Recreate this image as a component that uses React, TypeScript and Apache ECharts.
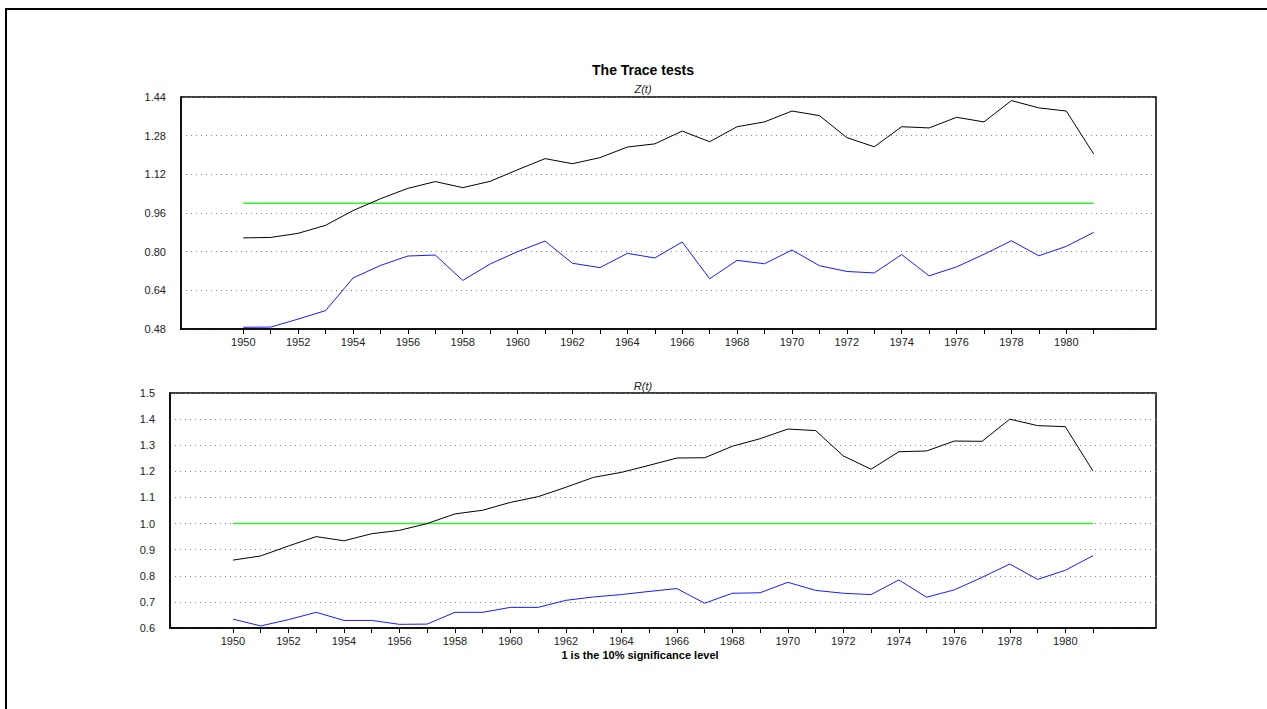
import React, { useEffect, useRef } from "react";
import * as echarts from "echarts";

const years: number[] = [
  1950, 1951, 1952, 1953, 1954, 1955, 1956, 1957, 1958, 1959, 1960, 1961, 1962, 1963, 1964, 1965,
  1966, 1967, 1968, 1969, 1970, 1971, 1972, 1973, 1974, 1975, 1976, 1977, 1978, 1979, 1980, 1981,
];
const labelYears: number[] = [1950, 1952, 1954, 1956, 1958, 1960, 1962, 1964, 1966, 1968, 1970, 1972, 1974, 1976, 1978, 1980];

const zBlack: number[] = [
  0.857, 0.859, 0.876, 0.909, 0.970, 1.019, 1.062, 1.090, 1.065, 1.091, 1.139, 1.185, 1.164, 1.189, 1.233, 1.246,
  1.299, 1.255, 1.317, 1.337, 1.382, 1.363, 1.272, 1.234, 1.317, 1.312, 1.356, 1.337, 1.425, 1.395, 1.382, 1.204,
];
const zBlue: number[] = [
  0.487, 0.488, 0.521, 0.556, 0.691, 0.743, 0.782, 0.786, 0.681, 0.749, 0.800, 0.844, 0.752, 0.734, 0.793, 0.774,
  0.840, 0.688, 0.764, 0.750, 0.807, 0.742, 0.718, 0.712, 0.788, 0.700, 0.737, 0.789, 0.845, 0.783, 0.822, 0.880,
];
const rBlack: number[] = [
  0.860, 0.876, 0.914, 0.950, 0.934, 0.961, 0.974, 1.000, 1.037, 1.051, 1.081, 1.103, 1.139, 1.177, 1.196, 1.223,
  1.251, 1.252, 1.296, 1.325, 1.362, 1.356, 1.259, 1.208, 1.275, 1.278, 1.316, 1.315, 1.400, 1.375, 1.371, 1.201,
];
const rBlue: number[] = [
  0.634, 0.608, 0.632, 0.660, 0.629, 0.629, 0.614, 0.615, 0.660, 0.660, 0.679, 0.679, 0.706, 0.719, 0.728, 0.740,
  0.751, 0.695, 0.733, 0.735, 0.775, 0.744, 0.733, 0.728, 0.784, 0.718, 0.746, 0.794, 0.845, 0.786, 0.821, 0.877,
];
const significance: number[] = years.map(() => 1);

const FONT = '"Liberation Sans", Arial, Helvetica, sans-serif';

function pairs(vals: number[]) {
  return years.map((y, i) => [y, vals[i]]);
}

function xAxisFor(gridIndex: number) {
  return {
    type: "value",
    gridIndex,
    min: 1947.73,
    max: 1983.27,
    axisLine: { show: true, lineStyle: { color: "#000", width: 1.5 } },
    axisTick: { show: true, customValues: years, length: 5, inside: false, lineStyle: { color: "#000", width: 1 } },
    axisLabel: {
      show: true,
      customValues: labelYears,
      margin: 7,
      color: "#222",
      fontSize: 11,
      fontFamily: FONT,
      formatter: (v: number) => String(Math.round(v)),
    },
    splitLine: { show: false },
  };
}

function yAxisFor(gridIndex: number, min: number, max: number, interval: number, dec: number) {
  return {
    type: "value",
    gridIndex,
    min,
    max,
    interval,
    axisLine: { show: true, lineStyle: { color: "#000", width: 1.5 } },
    axisTick: { show: false },
    axisLabel: {
      margin: 15,
      color: "#222",
      fontSize: 11,
      fontFamily: FONT,
      formatter: (v: number) => v.toFixed(dec),
    },
    splitLine: { show: true, lineStyle: { color: "#888", width: 1, type: [1, 4] } },
  };
}

function line(xi: number, vals: number[], color: string, width: number) {
  return {
    type: "line",
    xAxisIndex: xi,
    yAxisIndex: xi,
    data: pairs(vals),
    showSymbol: false,
    symbol: "none",
    lineStyle: { color, width },
    itemStyle: { color },
    z: 3,
  };
}

export default function App() {
  const ref = useRef<HTMLDivElement>(null);
  useEffect(() => {
    if (!ref.current) return;
    const chart = echarts.init(ref.current, null, { renderer: "svg" });
    chart.setOption({
      animation: false,
      backgroundColor: "#fff",
      grid: [
        { left: 181, top: 97, width: 975, height: 232, show: true, borderColor: "#000", borderWidth: 1.5, backgroundColor: "transparent" },
        { left: 170, top: 393, width: 986, height: 235, show: true, borderColor: "#000", borderWidth: 1.5, backgroundColor: "transparent" },
      ],
      xAxis: [xAxisFor(0), xAxisFor(1)],
      yAxis: [yAxisFor(0, 0.48, 1.44, 0.16, 2), yAxisFor(1, 0.6, 1.5, 0.1, 1)],
      series: [
        line(0, significance, "#33ee33", 1.5),
        line(0, zBlack, "#000", 1),
        line(0, zBlue, "#1a1aff", 1),
        line(1, significance, "#33ee33", 1.5),
        line(1, rBlack, "#000", 1),
        line(1, rBlue, "#1a1aff", 1),
      ],
      graphic: [
        {
          type: "rect",
          shape: { x: 6, y: 9, width: 1400, height: 900 },
          style: { fill: "none", stroke: "#000", lineWidth: 2 },
          silent: true,
        },
        {
          type: "text",
          x: 643,
          y: 70,
          style: { text: "The Trace tests", textAlign: "center", textVerticalAlign: "middle", font: `bold 14px ${FONT}`, fill: "#000" },
        },
        {
          type: "text",
          x: 643,
          y: 89,
          style: { text: "Z(t)", textAlign: "center", textVerticalAlign: "middle", font: `italic 11px ${FONT}`, fill: "#222" },
        },
        {
          type: "text",
          x: 643,
          y: 386,
          style: { text: "R(t)", textAlign: "center", textVerticalAlign: "middle", font: `italic 11px ${FONT}`, fill: "#222" },
        },
        {
          type: "text",
          x: 640,
          y: 655,
          style: { text: "1 is the 10% significance level", textAlign: "center", textVerticalAlign: "middle", font: `bold 11px ${FONT}`, fill: "#000" },
        },
      ],
    });
    return () => chart.dispose();
  }, []);
  return <div ref={ref} style={{ position: "fixed", left: 0, top: 0, width: 1267, height: 709 }} />;
}
